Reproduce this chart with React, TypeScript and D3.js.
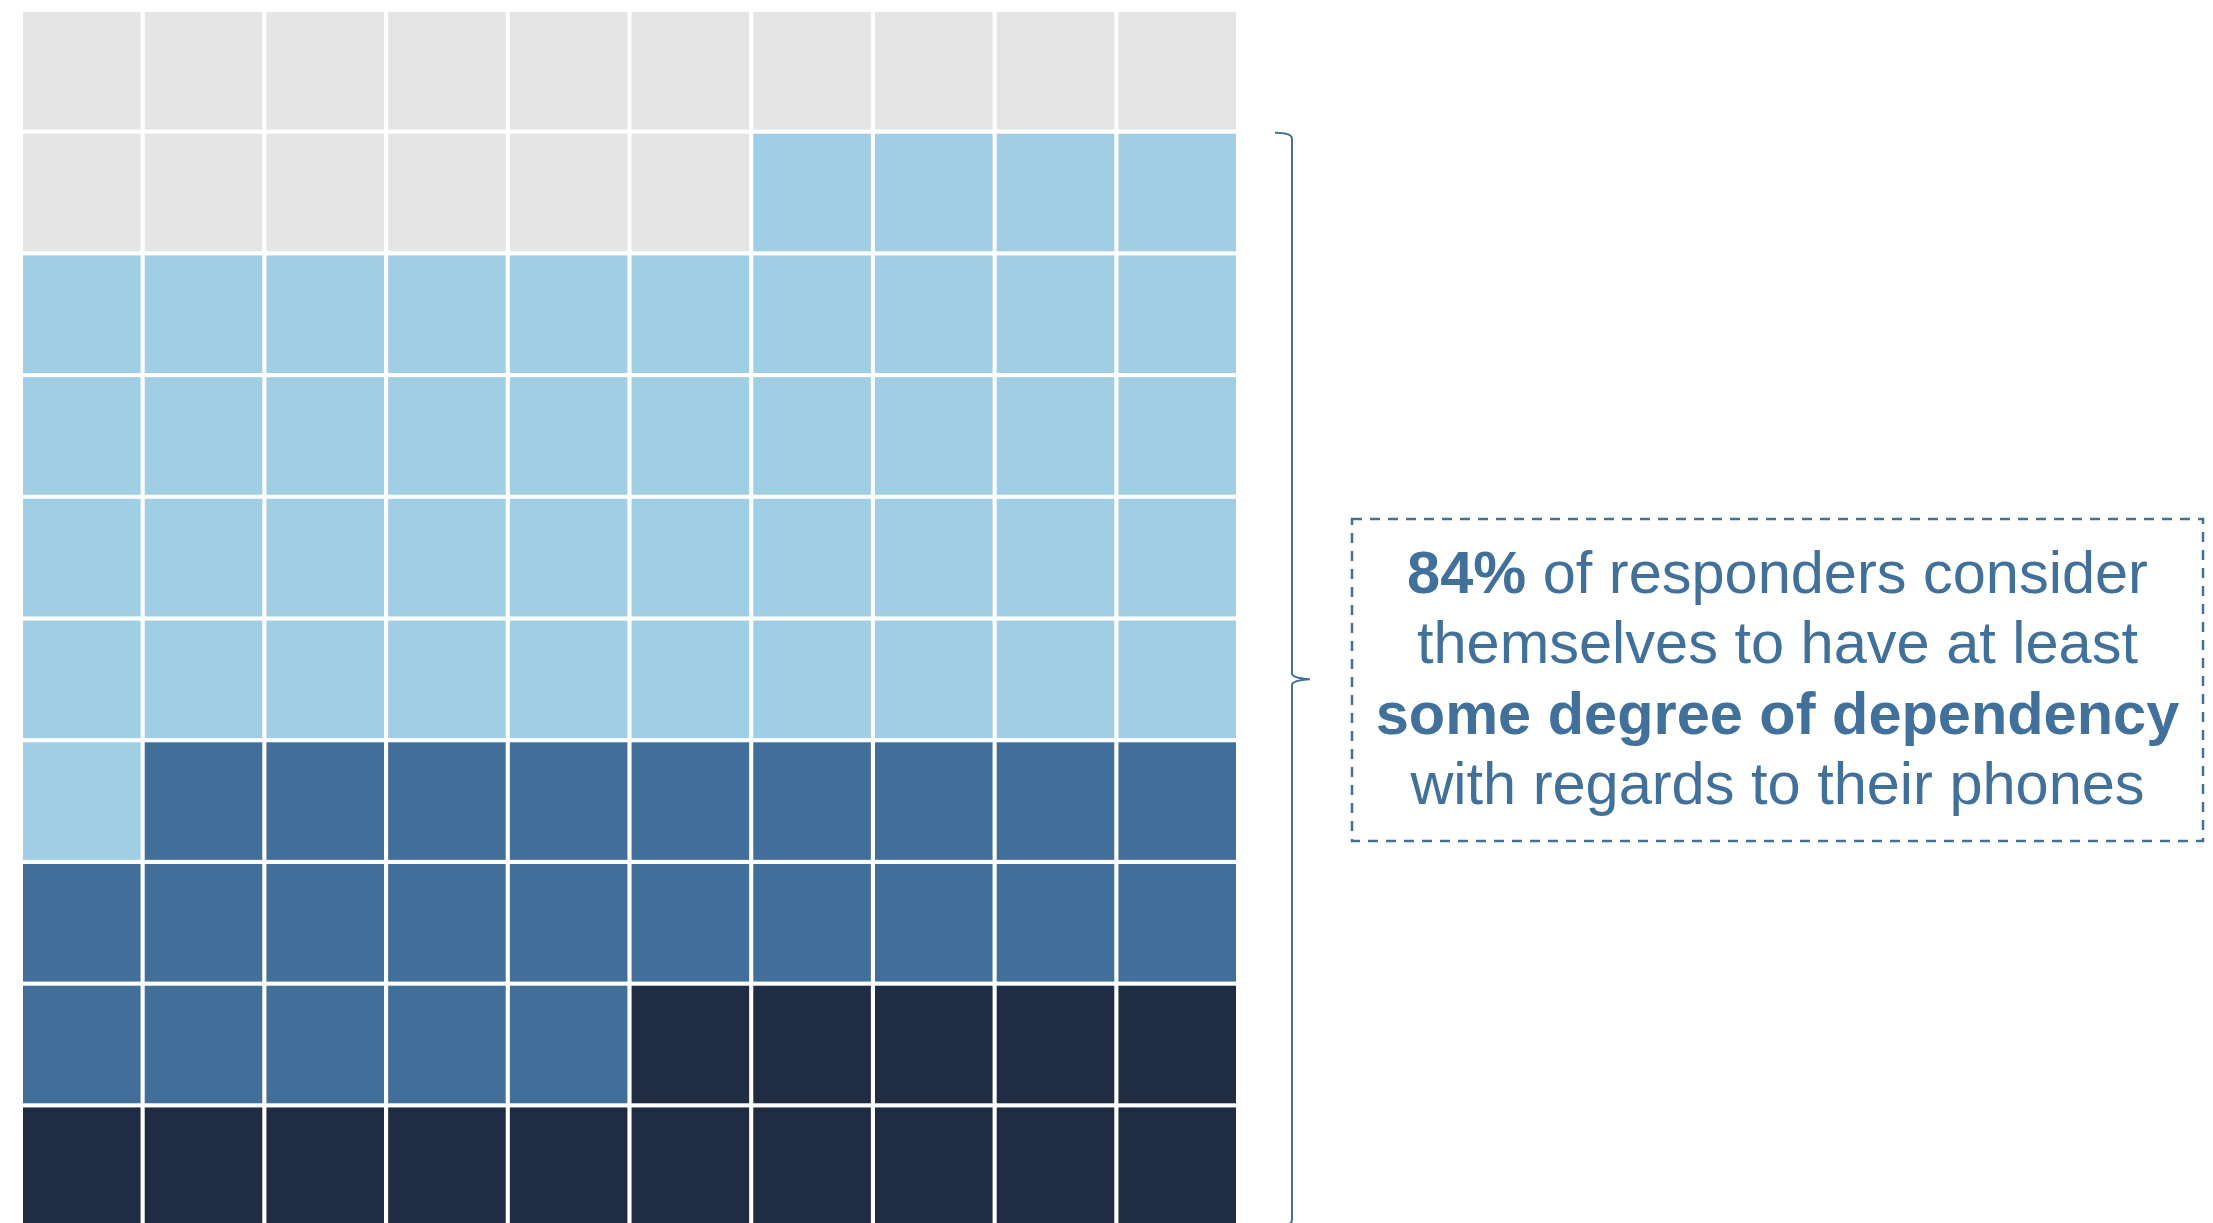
import React from "react";
import * as d3 from "d3";

const categories = ["High dependency", "Some dependency", "Slight dependency", "No dependency"];
const counts = [15, 24, 45, 16];
const colors = ["#1f2c43", "#426f99", "#a0cee4", "#e5e5e5"];
const textLines = [
  [{ t: "84%", b: true }, { t: " of responders consider", b: false }],
  [{ t: "themselves to have at least", b: false }],
  [{ t: "some degree of dependency", b: true }],
  [{ t: "with regards to their phones", b: false }],
];

const W = 2213;
const H = 1223;
const N = 10;

export default function App() {
  const idx = d3.range(N);
  const gx0 = 23, gx1 = 1236;
  const gy0 = 12;
  const x = d3.scaleBand<number>().domain(idx).range([gx0, gx1]).paddingInner(0.034).paddingOuter(0);
  const y = d3.scaleBand<number>().domain(idx).range([gy0, gy0 + (gx1 - gx0)]).paddingInner(0.034).paddingOuter(0);

  // build cells: fill from bottom-right, leftwards, then upwards
  const cells: { r: number; c: number; cat: number }[] = [];
  let k = 0;
  categories.forEach((_, ci) => {
    for (let i = 0; i < counts[ci]; i++) {
      const rowFromBottom = Math.floor(k / N);
      const colFromRight = k % N;
      cells.push({ r: N - 1 - rowFromBottom, c: N - 1 - colFromRight, cat: ci });
      k++;
    }
  });

  const accent = "#41709a";
  // brace spanning highlighted rows (rows 1..9)
  const bTop = y(1)!;
  const bBot = y(N - 1)! + y.bandwidth();
  const bMid = (bTop + bBot) / 2;
  const bx = 1292;
  const brace = d3.path();
  brace.moveTo(bx - 17, bTop - 1);
  brace.quadraticCurveTo(bx, bTop - 1, bx, bTop + 5);
  brace.lineTo(bx, bMid - 6);
  brace.quadraticCurveTo(bx, bMid - 1, bx + 18, bMid);
  brace.moveTo(bx + 18, bMid);
  brace.quadraticCurveTo(bx, bMid + 1, bx, bMid + 6);
  brace.lineTo(bx, bBot - 5);
  brace.quadraticCurveTo(bx, bBot + 1, bx - 17, bBot + 1);

  const boxX0 = 1352, boxX1 = 2203, boxY0 = 519, boxY1 = 841;
  const cx = (boxX0 + boxX1) / 2;
  const baseline0 = 593;
  const lh = 70.3;

  return (
    <svg width={W} height={H} style={{ position: "absolute", left: 0, top: 0, background: "#fff" }}>
      <g>
        {cells.map((d, i) => (
          <rect key={i} x={x(d.c)} y={y(d.r)} width={x.bandwidth()} height={y.bandwidth()} fill={colors[d.cat]} />
        ))}
      </g>
      <path d={brace.toString()} fill="none" stroke={accent} strokeWidth={2} />
      <rect
        x={boxX0}
        y={boxY0}
        width={boxX1 - boxX0}
        height={boxY1 - boxY0}
        fill="none"
        stroke={accent}
        strokeWidth={2.5}
        strokeDasharray="10 8"
      />
      <g fontFamily="'Liberation Sans', Arial, Helvetica, sans-serif" fontSize={59.5} fill={accent} textAnchor="middle">
        {textLines.map((line, li) => (
          <text key={li} x={cx} y={baseline0 + li * lh}>
            {line.map((s, si) => (
              <tspan key={si} fontWeight={s.b ? "bold" : "normal"}>{s.t}</tspan>
            ))}
          </text>
        ))}
      </g>
    </svg>
  );
}
